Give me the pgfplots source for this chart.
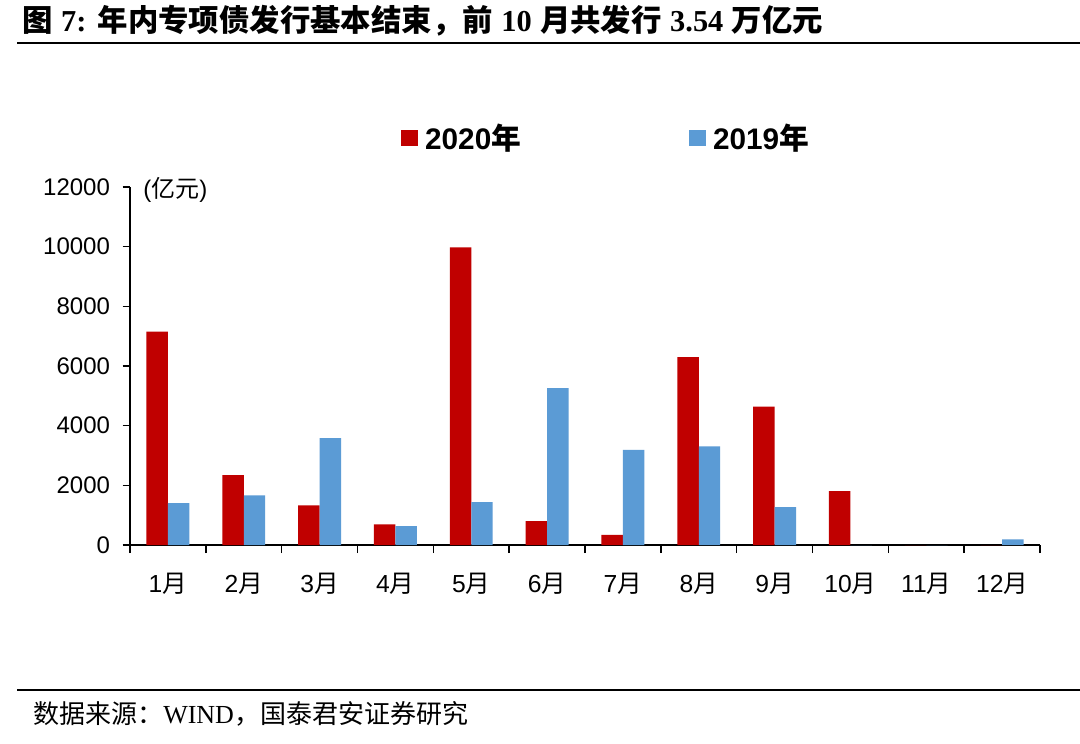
\documentclass[border=0pt]{standalone}
\usepackage{fontspec}
\usepackage{pgfplots}
\pgfplotsset{compat=1.18}
\setmainfont{Liberation Sans}
\newfontfamily\cjk{Noto Sans CJK SC}
\newfontfamily\tnr{Liberation Serif}
\definecolor{cred}{HTML}{C00000}
\definecolor{cblue}{HTML}{5B9BD5}
\newcommand{\yue}[1]{#1{\cjk 月}}
\begin{document}
\begin{tikzpicture}[x=0.75pt,y=0.75pt]
\useasboundingbox (0,0) rectangle (1080,743);
\fill[white] (0,0) rectangle (1080,743);
% title
\node[anchor=base west,inner sep=0pt,font=\fontsize{22.8}{22.8}\selectfont\bfseries] at (22,743-32)
 {{\cjk 图} {\tnr 7:} {\cjk 年内专项债发行基本结束，前} {\tnr 10} {\cjk 月共发行} {\tnr 3.54} {\cjk 万亿元}};
\draw[line width=1.5pt] (17,743-43) -- (1080,743-43);
\draw[line width=1.5pt] (17,743-690) -- (1080,743-690);
\node[anchor=base west,inner sep=0pt,font=\fontsize{19.5}{19.5}\selectfont] at (33,743-723)
 {{\cjk 数据来源：}{\tnr WIND}{\cjk ，国泰君安证券研究}};
\begin{axis}[
  at={(97.5pt,148.5pt)}, anchor=south west,
  scale only axis, width=682.5pt, height=268.5pt,
  xmin=-0.5, xmax=11.5, ymin=0, ymax=12000,
  ybar=0pt, bar width=16.1pt,
  axis x line=bottom, axis y line=left,
  axis line style={-, line width=1.2pt, black},
  xtick={0,...,11},
  xticklabels={\yue{1},\yue{2},\yue{3},\yue{4},\yue{5},\yue{6},\yue{7},\yue{8},\yue{9},\yue{10},\yue{11},\yue{12}},
  minor xtick={-0.5,0.5,...,11.5},
  major x tick style={draw=none},
  minor x tick style={line width=1.2pt, black},
  ytick={0,2000,...,12000},
  y tick style={line width=1.2pt, black},
  tick align=outside,
  major tick length=5.5pt, minor tick length=6pt,
  scaled y ticks=false,
  /pgf/number format/1000 sep={},
  /pgf/number format/assume math mode=true,
  yticklabel style={font=\fontsize{18}{18}\selectfont, xshift=-6pt},
  xticklabel style={font=\fontsize{18.5}{18.5}\selectfont, yshift=-12pt},
  legend style={draw=none, fill=none, at={(0.5235,1.137)}, anchor=center,
    legend columns=2, font=\fontsize{22.3}{22.3}\selectfont\bfseries,
    /tikz/every odd column/.append style={column sep=3.5pt},
    /tikz/every even column/.append style={column sep=124pt}},
  legend image code/.code={\draw[#1,draw=none] (0pt,-6.3pt) rectangle (12.5pt,6.3pt);},
  clip=false,
]
\addplot[fill=cred, draw=none] coordinates {
 (0,7150) (1,2340) (2,1330) (3,690) (4,9980) (5,800) (6,340) (7,6300) (8,4640) (9,1810) (10,0) (11,0)};
\addlegendentry{2020{\cjk 年}}
\addplot[fill=cblue, draw=none] coordinates {
 (0,1400) (1,1660) (2,3580) (3,630) (4,1440) (5,5260) (6,3190) (7,3310) (8,1270) (9,0) (10,0) (11,190)};
\addlegendentry{2019{\cjk 年}}
\end{axis}
\node[anchor=west,inner sep=0pt,font=\fontsize{18}{18}\selectfont] at (143,743-190) {({\cjk 亿元})};
\end{tikzpicture}
\end{document}
